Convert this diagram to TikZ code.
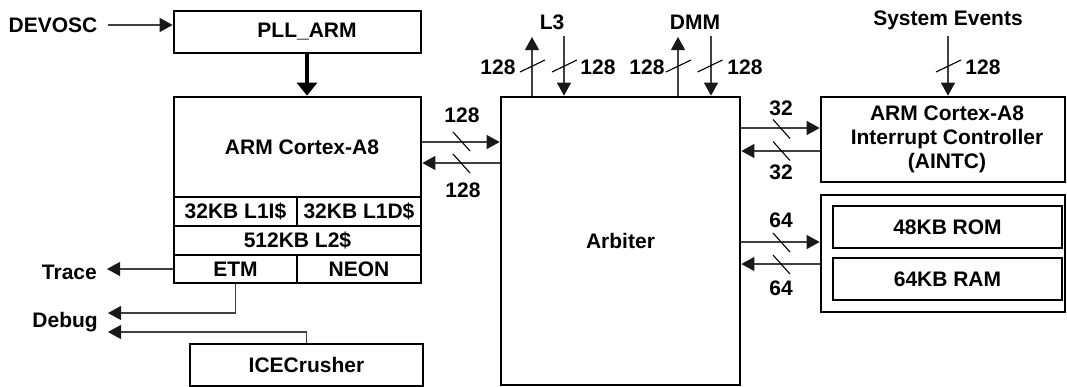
\documentclass[tikz,border=0pt]{standalone}
\usepackage{fontspec}
\setmainfont{Liberation Sans}
\usetikzlibrary{arrows.meta}
\begin{document}
\begin{tikzpicture}[x=1pt,y=-1pt,
  font=\fontsize{21}{24}\selectfont\bfseries,
  box/.style={draw, line width=2.7pt, inner sep=0pt, align=center},
  arr/.style={draw=black!75, line width=1.2pt, -{Triangle[length=13pt,width=14pt,color=black!90]}},
  tick/.style={draw=black, line width=1.1pt},
  lbl/.style={inner sep=0pt},
  vslash/.pic={\draw[tick] (-12.5,6) -- (12.5,-6);},
  hslash/.pic={\draw[tick] (-8.5,-9.5) -- (8.5,9.5);}]
\useasboundingbox (0,0) rectangle (1067,386);

% boxes
\node[box, minimum width=247pt, minimum height=42pt] (pll) at (297.5,32) {\hspace*{19pt}PLL\_ARM};
\node[box, minimum width=247pt, minimum height=186pt] (arm) at (297.5,190) {};
\node[lbl] (armtxt) at (302,147) {ARM Cortex-A8};
\node[box, minimum width=123pt, minimum height=29pt] (l1i) at (235.5,211.5) {32KB L1I\$};
\node[box, minimum width=124pt, minimum height=29pt] (l1d) at (359,211.5) {32KB L1D\$};
\node[box, minimum width=247pt, minimum height=29pt] (l2) at (297.5,240.5) {512KB L2\$};
\node[box, minimum width=123pt, minimum height=28pt] (etm) at (235.5,269) {ETM};
\node[box, minimum width=124pt, minimum height=28pt] (neon) at (359,269) {NEON};
\node[box, minimum width=233pt, minimum height=42pt] (ice) at (306.5,365) {ICECrusher};
\node[box, minimum width=239pt, minimum height=288pt] (arb) at (620.5,241) {Arbiter};
\node[box, minimum width=244pt, minimum height=85pt] (aintc) at (943,139.5) {\hspace*{8pt}ARM Cortex-A8\\\hspace*{8pt}Interrupt Controller\\\hspace*{8pt}(AINTC)};
\node[box, minimum width=244pt, minimum height=117pt] (mem) at (943,253.5) {};
\node[box, minimum width=229pt, minimum height=42pt] (rom) at (947.5,227) {48KB ROM};
\node[box, minimum width=229pt, minimum height=42pt] (ram) at (947.5,279) {64KB RAM};

% plain labels
\node[lbl] (devosc) at (53,25) {DEVOSC};
\node[lbl, anchor=east] (trace) at (97,272) {Trace};
\node[lbl, anchor=east] (debug) at (98,322) {Debug};
\node[lbl] (l3) at (552,22) {L3};
\node[lbl] (dmm) at (695,22) {DMM};
\node[lbl] (sysev) at (948,20) {System Events};

% width labels
\node[lbl] (w1) at (498,67) {128};
\node[lbl] (w2) at (598,67) {128};
\node[lbl] (w3) at (647,67) {128};
\node[lbl] (w4) at (745,67) {128};
\node[lbl] (w5) at (983,67) {128};
\node[lbl] (w6) at (462,115) {128};
\node[lbl] (w7) at (463,190) {128};
\node[lbl] (w8) at (781,108) {32};
\node[lbl] (w9) at (781,172) {32};
\node[lbl] (w10) at (781,220) {64};
\node[lbl] (w11) at (781,288) {64};

% free ends
\coordinate (l3up) at (532,37);
\coordinate (l3dn) at (564,36);
\coordinate (dmup) at (678,37);
\coordinate (dmdn) at (711,36);
\coordinate (sedn) at (948,36);

% connectors
\draw[arr, shorten <=10pt] (devosc.east) -- (pll.west |- devosc.east);
\draw[line width=4.5pt, -{Triangle[length=13pt,width=20pt]}] ([xshift=9.5pt]pll.south) -- ([xshift=9.5pt]arm.north);
\draw[arr] (arb.north -| l3up) -- (l3up);
\draw[arr] (l3dn) -- (arb.north -| l3dn);
\draw[arr] (arb.north -| dmup) -- (dmup);
\draw[arr] (dmdn) -- (arb.north -| dmdn);
\draw[arr] (sedn) -- (aintc.north -| sedn);
\draw[arr] (arm.east |- 0,142) -- (arb.west |- 0,142);
\draw[arr] (arb.west |- 0,163) -- (arm.east |- 0,163);
\draw[arr] (arb.east |- 0,128) -- (aintc.west |- 0,128);
\draw[arr] (aintc.west |- 0,151) -- (arb.east |- 0,151);
\draw[arr] (arb.east |- 0,242) -- (mem.west |- 0,242);
\draw[arr] (mem.west |- 0,264) -- (arb.east |- 0,264);
\draw[arr, shorten >=10pt] (etm.west) -- (etm.west -| trace.east);
\draw[arr, shorten >=10pt] (etm.south) -- (etm.south |- 0,313) -- (debug.east |- 0,313);
\draw[arr, shorten >=10pt] (ice.north) -- (ice.north |- 0,332) -- (debug.east |- 0,332);

% bus-width slashes
\pic at (532.5,66) {vslash};
\pic at (564.5,66) {vslash};
\pic at (678.5,66) {vslash};
\pic at (710,66) {vslash};
\pic at (948.5,66) {vslash};
\pic at (461.5,141.5) {hslash};
\pic at (461.5,163.5) {hslash};
\pic at (781.5,129) {hslash};
\pic at (781.5,151) {hslash};
\pic at (781.5,242.5) {hslash};
\pic at (781.5,264.5) {hslash};
\end{tikzpicture}
\end{document}
